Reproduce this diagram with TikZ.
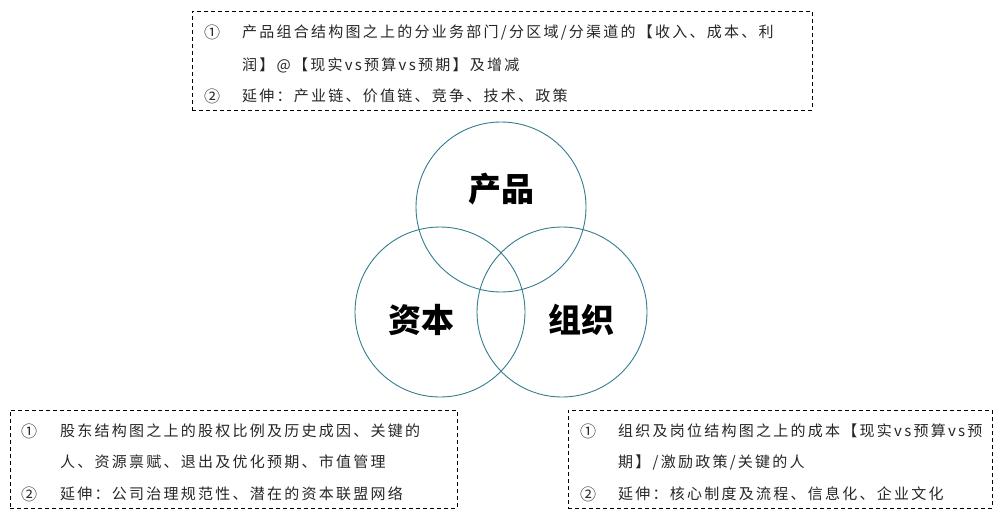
\documentclass[tikz,border=0pt]{standalone}
\usepackage{fontspec}
\newfontfamily\cjk{Noto Sans CJK SC}[LetterSpace=15]
\newfontfamily\cjkbold{Noto Sans CJK SC}
\definecolor{ringblue}{RGB}{52,124,144}

\begin{document}
\begin{tikzpicture}[x=1pt,y=-1pt,
  ring/.style = {draw=ringblue,line width=0.9pt,circle,minimum size=170pt,inner sep=0pt},
  title/.style = {font=\cjkbold\bfseries\fontsize{33}{33}\selectfont,text=black},
  dbox/.style = {draw,dash pattern=on 4pt off 3pt,line width=0.8pt,inner sep=0pt},
  num/.style = {font=\cjk\fontsize{16}{16}\selectfont,text=black!85},
  txt/.style = {font=\cjk\fontsize{15}{15}\selectfont,text=black!85,anchor=west,inner sep=0pt}]
\useasboundingbox (0,0) rectangle (1003,517);

% three circles
\node[ring] (prod) at (501,207) {};
\node[ring] (cap)  at (440,312) {};
\node[ring] (org)  at (562,312) {};

\node[title] (tprod) at (501,189) {产品};
\node[title] (tcap)  at (421,320) {资本};
\node[title] (torg)  at (581,320) {组织};

% top box
\node[dbox,minimum width=620pt,minimum height=99pt] (pbox) at (502,60.5) {};
\node[num] (p1) at (212,32) {①};
\node[txt] (pa) at (242,32) {产品组合结构图之上的分业务部门/分区域/分渠道的【收入、成本、利};
\node[txt] (pb) at (242,65) {润】@【现实vs预算vs预期】及增减};
\node[num] (p2) at (212,96) {②};
\node[txt] (pc) at (242,96) {延伸：产业链、价值链、竞争、技术、政策};

% bottom left box
\node[dbox,minimum width=447pt,minimum height=98pt] (cbox) at (233.5,459) {};
\node[num] (c1) at (29,431) {①};
\node[txt] (ca) at (60,431) {股东结构图之上的股权比例及历史成因、关键的};
\node[txt] (cb) at (60,462) {人、资源禀赋、退出及优化预期、市值管理};
\node[num] (c2) at (29,494) {②};
\node[txt] (cc) at (60,494) {延伸：公司治理规范性、潜在的资本联盟网络};

% bottom right box
\node[dbox,minimum width=424pt,minimum height=98pt] (obox) at (780,459) {};
\node[num] (o1) at (588,431) {①};
\node[txt] (oa) at (618,431) {组织及岗位结构图之上的成本【现实vs预算vs预};
\node[txt] (ob) at (618,462) {期】/激励政策/关键的人};
\node[num] (o2) at (588,494) {②};
\node[txt] (oc) at (618,494) {延伸：核心制度及流程、信息化、企业文化};
\end{tikzpicture}
\end{document}
